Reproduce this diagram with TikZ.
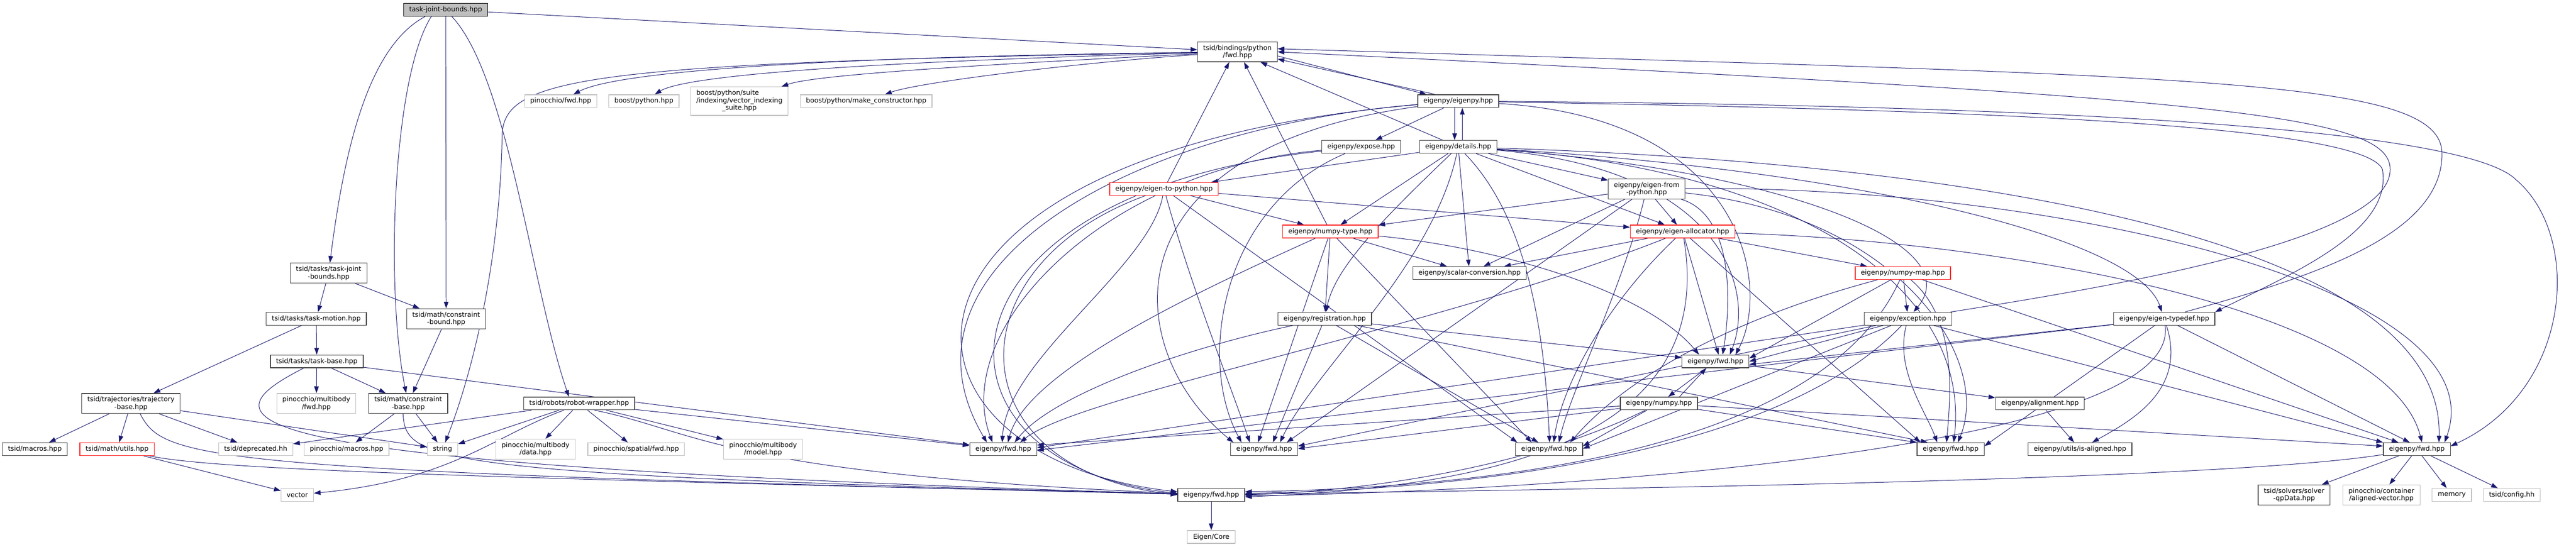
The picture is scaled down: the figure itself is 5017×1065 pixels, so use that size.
\documentclass[tikz,border=0pt]{standalone}
\usepackage{fontspec}
\setmainfont{DejaVu Sans}
\usepackage{xcolor}
\usepackage{tikz}
\usetikzlibrary{arrows.meta, positioning, backgrounds}

\definecolor{edgeblue}{HTML}{191970}
\definecolor{extgrey}{HTML}{BFBFBF}
\definecolor{filegrey}{HTML}{404040}
\definecolor{cutred}{HTML}{FF2020}

\begin{document}
\begin{tikzpicture}[
        x=1pt, y=-1pt,
        every node/.style={font=\fontsize{13}{14.5}\selectfont},
        file/.style={draw=filegrey, line width=1.3pt, fill=white,
                     inner xsep=11pt, inner ysep=6pt, minimum height=25pt, align=center},
        extfile/.style={file, draw=extgrey},
        cutfile/.style={file, draw=cutred},
        rootfile/.style={file, draw=black, fill=extgrey},
        incl/.style={draw=edgeblue, line width=1pt, -{Triangle[length=13pt, width=9pt]}}
]
\useasboundingbox (0,0) rectangle (5017,1065);

%--- root and python bindings ---------------------------------
\node[rootfile] (root) at (868,19)  {task-joint-bounds.hpp};
\node[file]     (bf)   at (2410,101) {tsid/bindings/python\\/fwd.hpp};

\node[extfile] (pfwd) at (1092,197) {pinocchio/fwd.hpp};
\node[extfile] (bpy)  at (1254,197) {boost/python.hpp};
\node[extfile] (vis)  at (1440,197)
     {\begin{tabular}{@{}l@{}}boost/python/suite\\/indexing/vector\_indexing\\\multicolumn{1}{@{}c@{}}{\_suite.hpp}\end{tabular}};
\node[extfile] (bmc)  at (1687,197) {boost/python/make\_constructor.hpp};

%--- eigenpy headers ------------------------------------------
\node[file]    (epy)  at (2840,197) {eigenpy/eigenpy.hpp};
\node[file]    (expo) at (2651,286) {eigenpy/expose.hpp};
\node[file]    (det)  at (2840,286) {eigenpy/details.hpp};
\node[cutfile] (e2p)  at (2267,368) {eigenpy/eigen-to-python.hpp};
\node[file]    (efp)  at (3207,368) {eigenpy/eigen-from\\-python.hpp};
\node[cutfile] (npt)  at (2591,451) {eigenpy/numpy-type.hpp};
\node[cutfile] (eal)  at (3277,451) {eigenpy/eigen-allocator.hpp};
\node[file]    (scv)  at (2862,532) {eigenpy/scalar-conversion.hpp};
\node[cutfile] (npm)  at (3706,532) {eigenpy/numpy-map.hpp};
\node[file]    (reg)  at (2580,621) {eigenpy/registration.hpp};
\node[file]    (exc)  at (3716,621) {eigenpy/exception.hpp};
\node[file]    (etd)  at (4215,621) {eigenpy/eigen-typedef.hpp};
\node[file]    (fa)   at (3341,704) {eigenpy/fwd.hpp};
\node[file]    (npy)  at (3231,786) {eigenpy/numpy.hpp};
\node[file]    (aln)  at (3973,786) {eigenpy/alignment.hpp};

%--- tsid headers ---------------------------------------------
\node[file]    (ttjb) at (640,532)  {tsid/tasks/task-joint\\-bounds.hpp};
\node[file]    (tmo)  at (616,621)  {tsid/tasks/task-motion.hpp};
\node[file]    (cbd)  at (869,621)  {tsid/math/constraint\\-bound.hpp};
\node[file]    (tba)  at (617,704)  {tsid/tasks/task-base.hpp};
\node[file]    (trj)  at (255,786)  {tsid/trajectories/trajectory\\-base.hpp};
\node[extfile] (pmf)  at (616,786)  {pinocchio/multibody\\/fwd.hpp};
\node[file]    (cbs)  at (795,786)  {tsid/math/constraint\\-base.hpp};
\node[file]    (rw)   at (1128,786) {tsid/robots/robot-wrapper.hpp};

%--- leaves (row of fwd files) --------------------------------
\node[file]    (mac)  at (68,875)   {tsid/macros.hpp};
\node[cutfile] (utl)  at (228,875)  {tsid/math/utils.hpp};
\node[extfile] (depr) at (498,875)  {tsid/deprecated.hh};
\node[extfile] (pma)  at (675,875)  {pinocchio/macros.hpp};
\node[extfile] (str)  at (862,875)  {string};
\node[extfile] (pmd)  at (1043,875) {pinocchio/multibody\\/data.hpp};
\node[extfile] (psf)  at (1239,875) {pinocchio/spatial/fwd.hpp};
\node[extfile] (pmm)  at (1486,875) {pinocchio/multibody\\/model.hpp};
\node[file]    (fb)   at (1954,875) {eigenpy/fwd.hpp};
\node[file]    (fc)   at (2462,875) {eigenpy/fwd.hpp};
\node[file]    (fd)   at (3017,875) {eigenpy/fwd.hpp};
\node[file]    (fe)   at (3799,875) {eigenpy/fwd.hpp};
\node[file]    (isa)  at (4051,875) {eigenpy/utils/is-aligned.hpp};
\node[file]    (ff)   at (4707,875) {eigenpy/fwd.hpp};

%--- bottom rows ----------------------------------------------
\node[extfile] (vec)  at (579,964)  {vector};
\node[file]    (fg)   at (2359,964) {eigenpy/fwd.hpp};
\node[file]    (qp)   at (4468,964) {tsid/solvers/solver\\-qpData.hpp};
\node[extfile] (pav)  at (4638,964) {pinocchio/container\\/aligned-vector.hpp};
\node[extfile] (mem)  at (4775,964) {memory};
\node[extfile] (cfg)  at (4892,964) {tsid/config.hh};
\node[extfile] (ec)   at (2359,1046) {Eigen/Core};

\begin{scope}[on background layer]
%--- root includes --------------------------------------------
\draw[incl] ([xshift=-40pt]root.south) .. controls (720,90) and (672,280) .. (ttjb);
\draw[incl] (root) -- (cbd);
\draw[incl] ([xshift=-28pt]root.south) .. controls (765,150) and (750,560) .. (cbs);
\draw[incl] ([xshift=12pt]root.south) .. controls (990,150) and (1035,560) .. ([xshift=-20pt]rw.north);
\draw[incl] (root) -- (bf);

%--- tasks / math ---------------------------------------------
\draw[incl] (ttjb) -- (tmo);
\draw[incl] (ttjb) -- (cbd);
\draw[incl] (tmo) -- (trj);
\draw[incl] (tmo) -- (tba);
\draw[incl] (cbd) -- (cbs);
\draw[incl] (tba) -- (pmf);
\draw[incl] (tba) -- (cbs);
\draw[incl] (tba) -- (fb);
\draw[incl] (tba) .. controls (390,820) and (390,905) .. (fg);

\draw[incl] (trj) -- (mac);
\draw[incl] (trj) -- (utl);
\draw[incl] (trj) -- (depr);
\draw[incl] (trj) -- (str);
\draw[incl] ([xshift=18pt]trj.south) .. controls (320,895) and (380,918) .. (fg);
\draw[incl] (utl) -- (vec);
\draw[incl] (utl) .. controls (420,915) and (900,930) .. (fg);
\draw[incl] (cbs) -- (pma);
\draw[incl] (cbs) -- (str);
\draw[incl] ([xshift=-10pt]cbs.south) .. controls (790,900) and (840,925) .. (fg);

%--- robot wrapper --------------------------------------------
\draw[incl] (rw) -- (depr);
\draw[incl] (rw) -- (str);
\draw[incl] ([xshift=-30pt]rw.south) .. controls (960,850) and (880,935) .. (vec);
\draw[incl] (rw) -- (pmd);
\draw[incl] (rw) -- (psf);
\draw[incl] (rw) -- (pmm);
\draw[incl] ([xshift=30pt]rw.south) .. controls (1360,840) and (1400,922) .. (fg);
\draw[incl] (rw) -- (fb);

%--- bindings fwd ---------------------------------------------
\draw[incl] (bf) .. controls (1500,112) and (1190,145) .. (pfwd);
\draw[incl] (bf) .. controls (1620,122) and (1330,150) .. (bpy);
\draw[incl] (bf) .. controls (1720,135) and (1570,152) .. (vis);
\draw[incl] (bf) .. controls (2100,122) and (1790,160) .. (bmc);
\draw[incl] (bf) .. controls (1150,122) and (985,150) .. (978,260)
                 .. controls (975,480) and (930,700) .. (str);

%--- eigenpy headers among themselves -------------------------
\draw[incl] ([yshift=-8pt]bf.east) -- ([xshift=-62pt]epy.north);
\draw[incl] ([xshift=-45pt]epy.north) -- ([yshift=-14pt]bf.east);
\draw[incl] (det) -- ([xshift=45pt]bf.south);
\draw[incl] (e2p) -- ([xshift=-16pt]bf.south);
\draw[incl] (npt) -- ([xshift=13pt]bf.south);
\draw[incl] (epy) -- (expo);
\draw[incl] ([xshift=-7pt]epy.south) -- ([xshift=-7pt]det.north);
\draw[incl] ([xshift=8pt]det.north) -- ([xshift=8pt]epy.south);
\draw[incl] (det) -- (efp);
\draw[incl] (det) -- (npt);
\draw[incl] (det) -- (eal);
\draw[incl] (det) -- (scv);
\draw[incl] (det) -- (e2p);
\draw[incl] (det) .. controls (2700,420) and (2600,520) .. (reg);
\draw[incl] (det) .. controls (3450,330) and (3840,470) .. (exc);
\draw[incl] (det) .. controls (3600,330) and (4160,460) .. (etd);
\draw[incl] (epy) .. controls (3700,212) and (4600,235) .. (4640,330)
                  .. controls (4660,450) and (4470,530) .. (etd.north east);
\draw[incl] ([xshift=40pt]etd.north) .. controls (4500,540) and (4756,460) .. (4756,300)
                  .. controls (4756,150) and (4300,150) .. ([yshift=6pt]bf.east);
\draw[incl] (exc) .. controls (4100,560) and (4655,470) .. (4655,330)
                  .. controls (4655,220) and (4300,190) .. (bf.east);
\draw[incl] (efp) -- (npt);
\draw[incl] (efp) -- (eal);
\draw[incl] (efp) -- (scv);
\draw[incl] (e2p) -- (npt);
\draw[incl] (e2p) -- (eal);
\draw[incl] (npt) -- (scv);
\draw[incl] (npt) -- (reg);
\draw[incl] (eal) -- (scv);
\draw[incl] (eal) -- (npm);
\draw[incl] (npm) -- (exc);

%--- eigenpy/fwd.hpp (A) --------------------------------------
\draw[incl] (fa) -- ([xshift=18pt]npy.north);
\draw[incl] ([xshift=40pt]npy.north) -- ([xshift=-18pt]fa.south);
\draw[incl] (fa) -- (aln);
\draw[incl] (aln) -- (isa);
\draw[incl] (etd) .. controls (4260,760) and (4150,820) .. (isa);
\draw[incl] (reg) -- (fa);
\draw[incl] (npt) .. controls (2900,480) and (3200,560) .. ([xshift=-32pt]fa.north);
\draw[incl] (eal) -- ([xshift=6pt]fa.north);
\draw[incl] (efp) .. controls (3380,420) and (3370,600) .. ([xshift=14pt]fa.north);
\draw[incl] (det) .. controls (3350,330) and (3420,560) .. ([xshift=28pt]fa.north);
\draw[incl] (epy) .. controls (3400,230) and (3450,560) .. ([xshift=39pt]fa.north);
\draw[incl] (npm) -- ([yshift=6pt]fa.east);
\draw[incl] (exc) -- (fa.east);
\draw[incl] (etd) -- ([yshift=-6pt]fa.east);

%--- eigenpy/fwd.hpp (B) --------------------------------------
\draw[incl] (epy) .. controls (2200,250) and (1720,520) .. ([xshift=-32pt]fb.north);
\draw[incl] (expo) .. controls (2150,330) and (1850,640) .. ([xshift=-21pt]fb.north);
\draw[incl] (e2p) .. controls (2240,520) and (1960,700) .. ([xshift=-2pt]fb.north);
\draw[incl] (npt) .. controls (2350,560) and (2000,720) .. ([xshift=9pt]fb.north);
\draw[incl] (reg) .. controls (2300,680) and (2050,770) .. ([xshift=22pt]fb.north);
\draw[incl] (eal) .. controls (2800,640) and (2100,770) .. ([xshift=33pt]fb.north);
\draw[incl] (npy) -- ([yshift=8pt]fb.east);
\draw[incl] (exc) -- ([yshift=3pt]fb.east);
\draw[incl] (etd) -- ([yshift=-2pt]fb.east);

%--- eigenpy/fwd.hpp (C) --------------------------------------
\draw[incl] (epy) .. controls (2150,290) and (2180,680) .. ([xshift=-60pt]fc.north);
\draw[incl] (expo) .. controls (2380,400) and (2330,700) .. ([xshift=-44pt]fc.north);
\draw[incl] (e2p) .. controls (2320,560) and (2400,760) .. ([xshift=-28pt]fc.north);
\draw[incl] (npt) -- ([xshift=-12pt]fc.north);
\draw[incl] (reg) -- ([xshift=17pt]fc.north);
\draw[incl] (det) .. controls (2790,520) and (2560,720) .. ([xshift=31pt]fc.north);
\draw[incl] (efp) -- ([xshift=44pt]fc.north);
\draw[incl] (exc) -- ([yshift=6pt]fc.east);
\draw[incl] (npy) -- ([yshift=1pt]fc.east);

%--- eigenpy/fwd.hpp (D) --------------------------------------
\draw[incl] (e2p) -- ([xshift=-62pt]fd.north);
\draw[incl] (npt) -- ([xshift=-34pt]fd.north);
\draw[incl] (reg) -- ([xshift=-21pt]fd.north);
\draw[incl] (det) .. controls (2990,440) and (3010,700) .. ([xshift=1pt]fd.north);
\draw[incl] (eal) .. controls (3120,600) and (3040,760) .. ([xshift=9pt]fd.north);
\draw[incl] (efp) .. controls (3160,560) and (3060,760) .. ([xshift=19pt]fd.north);
\draw[incl] (npm) .. controls (3450,600) and (3200,700) .. ([xshift=41pt]fd.north);
\draw[incl] (npy) -- ([yshift=6pt]fd.east);
\draw[incl] (exc) -- ([yshift=1pt]fd.east);

%--- eigenpy/fwd.hpp (E) --------------------------------------
\draw[incl] (npy) -- (fe.north west);
\draw[incl] (eal) -- ([xshift=-59pt]fe.north);
\draw[incl] (reg) -- ([xshift=-45pt]fe.north);
\draw[incl] (exc) .. controls (3690,720) and (3750,800) .. ([xshift=-26pt]fe.north);
\draw[incl] (npm) .. controls (3810,620) and (3800,760) .. ([xshift=-8pt]fe.north);
\draw[incl] (det) .. controls (3500,330) and (3840,560) .. ([xshift=6pt]fe.north);
\draw[incl] (efp) .. controls (3700,420) and (3880,700) .. ([xshift=14pt]fe.north);
\draw[incl] (etd) -- ([yshift=6pt]fe.east);

%--- eigenpy/fwd.hpp (F) --------------------------------------
\draw[incl] (npy) -- ([yshift=6pt]ff.west);
\draw[incl] (exc) -- (ff.north west);
\draw[incl] (npm) -- ([xshift=-36pt]ff.north);
\draw[incl] (etd) -- ([xshift=-14pt]ff.north);
\draw[incl] (eal) .. controls (3900,470) and (4650,600) .. ([xshift=10pt]ff.north);
\draw[incl] (det) .. controls (3900,320) and (4760,480) .. ([xshift=43pt]ff.north);
\draw[incl] (efp) .. controls (4000,360) and (4870,560) .. ([xshift=54pt]ff.north);
\draw[incl] (epy) .. controls (4000,205) and (4800,250) .. (4900,350)
                  .. controls (5030,460) and (5010,760) .. ([yshift=6pt]ff.east);
\draw[incl] (ff) -- (qp);
\draw[incl] (ff) -- (pav);
\draw[incl] (ff) -- (mem);
\draw[incl] (ff) -- (cfg);
\draw[incl] (ff) .. controls (4300,940) and (2900,955) .. (fg);

%--- eigenpy/fwd.hpp (G) --------------------------------------
\draw[incl] (epy) .. controls (1650,300) and (1690,890) .. ([yshift=6pt]fg.west);
\draw[incl] (expo) .. controls (1780,380) and (1780,905) .. ([yshift=3pt]fg.west);
\draw[incl] (e2p) .. controls (1850,520) and (1860,915) .. (fg.west);
\draw[incl] (npy) .. controls (3000,900) and (2700,955) .. (fg.east);
\draw[incl] (exc) .. controls (3450,900) and (2800,955) .. ([yshift=3pt]fg.east);
\draw[incl] (npm) .. controls (3550,880) and (2900,950) .. ([yshift=6pt]fg.east);
\draw[incl] (eal) .. controls (3350,880) and (2850,950) .. ([yshift=-4pt]fg.east);
\draw[incl] (etd) .. controls (4250,880) and (3000,958) .. ([yshift=-2pt]fg.east);
\draw[incl] (fg) -- (ec);
\end{scope}

\end{tikzpicture}
\end{document}
